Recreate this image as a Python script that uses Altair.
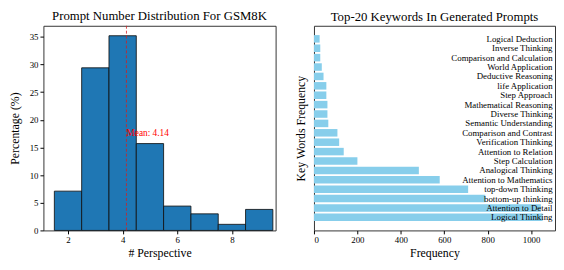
import altair as alt
import pandas as pd

# ---- data: left panel (histogram) ----
perspective_bins = [2, 3, 4, 5, 6, 7, 8, 9]
percentages = [7.1, 29.4, 35.2, 15.7, 4.4, 3.0, 1.1, 3.8]
mean_value = 4.14

# ---- data: right panel (top-20 keywords, top -> bottom) ----
keywords = [
    "Logical Deduction", "Inverse Thinking", "Comparison and Calculation",
    "World Application", "Deductive Reasoning", "life Application",
    "Step Approach", "Mathematical Reasoning", "Diverse Thinking",
    "Semantic Understanding", "Comparison and Contrast", "Verification Thinking",
    "Attention to Relation", "Step Calculation", "Analogical Thinking",
    "Attention to Mathematics", "top-down Thinking", "bottom-up thinking",
    "Attention to Detail", "Logical Thinking",
]
frequencies = [26, 29, 29, 36, 44, 57, 57, 62, 62, 66,
               108, 116, 137, 200, 483, 579, 710, 789, 1045, 1053]

x_ticks_left = [2, 4, 6, 8]
y_ticks_left = [0, 5, 10, 15, 20, 25, 30, 35]
x_ticks_right = [0, 200, 400, 600, 800, 1000]

FONT = "Liberation Serif, Times New Roman, Times, serif"
H = 208

hist_df = pd.DataFrame({"bin": perspective_bins, "pct": percentages})
mean_df = pd.DataFrame({"mean": [mean_value],
                        "label": [f"Mean: {mean_value:.2f}"],
                        "ypos": [max(percentages) / 2]})
kw_df = pd.DataFrame({"keyword": keywords, "freq": frequencies})

xscale_l = alt.Scale(domain=[1.1, 9.6], nice=False, zero=False)
yscale_l = alt.Scale(domain=[0, 37], nice=False)
xaxis_l = alt.Axis(values=x_ticks_left, title="# Perspective", format="d")
yaxis_l = alt.Axis(values=y_ticks_left, title="Percentage (%)", titlePadding=8)

hist = alt.Chart(hist_df).transform_calculate(
    start="datum.bin - 0.5", end="datum.bin + 0.5", base="0"
).mark_bar(color="#1f77b4", stroke="#111111", strokeWidth=1, strokeOpacity=0.85).encode(
    x=alt.X("start:Q", scale=xscale_l, axis=xaxis_l),
    x2="end:Q",
    y=alt.Y("pct:Q", scale=yscale_l, axis=yaxis_l),
    y2="base:Q",
)

mean_rule = alt.Chart(mean_df).mark_rule(
    color="#d62020", strokeDash=[3, 2], strokeWidth=1, opacity=0.8
).encode(x=alt.X("mean:Q", scale=xscale_l, axis=xaxis_l))

mean_text = alt.Chart(mean_df).mark_text(
    align="left", baseline="middle", color="red", fontSize=9.5, font=FONT
).encode(
    x=alt.X("mean:Q", scale=xscale_l, axis=xaxis_l),
    y=alt.Y("ypos:Q", scale=yscale_l, axis=yaxis_l),
    text="label:N",
)

left = alt.layer(hist, mean_rule, mean_text).properties(
    width=236, height=H,
    title=alt.TitleParams("Prompt Number Distribution For GSM8K", fontSize=13,
                          font=FONT, fontWeight="normal", offset=2, anchor="middle"),
)

xscale_r = alt.Scale(domain=[0, 1110], nice=False)
yscale_r = alt.Scale(paddingInner=0.2, paddingOuter=0.99)
xaxis_r = alt.Axis(values=x_ticks_right, title="Frequency", format="d")

kw_bars = alt.Chart(kw_df).mark_bar(color="#87ceeb").encode(
    x=alt.X("freq:Q", scale=xscale_r, axis=xaxis_r),
    y=alt.Y("keyword:N", sort=keywords, scale=yscale_r,
            axis=alt.Axis(title="Key Words Frequency", labels=False, ticks=False,
                          titlePadding=7)),
)

kw_labels = alt.Chart(kw_df).mark_bar(opacity=0).encode(
    x=alt.X("freq:Q", scale=xscale_r, axis=xaxis_r),
    y=alt.Y("keyword:N", sort=keywords, scale=yscale_r,
            axis=alt.Axis(orient="right", title=None, ticks=False, labelAlign="right",
                          labelPadding=-3, labelFontSize=9, zindex=1, labelLimit=300)),
)

right = alt.layer(kw_bars, kw_labels).resolve_axis(y="independent").properties(
    width=245, height=H,
    title=alt.TitleParams("Top-20 Keywords In Generated Prompts", fontSize=13,
                          font=FONT, fontWeight="normal", offset=2, anchor="middle"),
)

chart = alt.hconcat(left, right, spacing=17, padding=0).configure(
    font=FONT
).configure_title(font=FONT, fontWeight="normal").configure_axis(
    grid=False, domain=False, labelFont=FONT, titleFont=FONT, labelFontSize=9,
    titleFontSize=12, titleFontWeight="normal", labelColor="black", titleColor="black",
    tickColor="black", tickSize=3.5, labelPadding=2, titlePadding=3,
).configure_text(font=FONT).configure_view(stroke="#333333", strokeWidth=1)

chart.save("out.html", embed_options={"renderer": "svg", "actions": False})
